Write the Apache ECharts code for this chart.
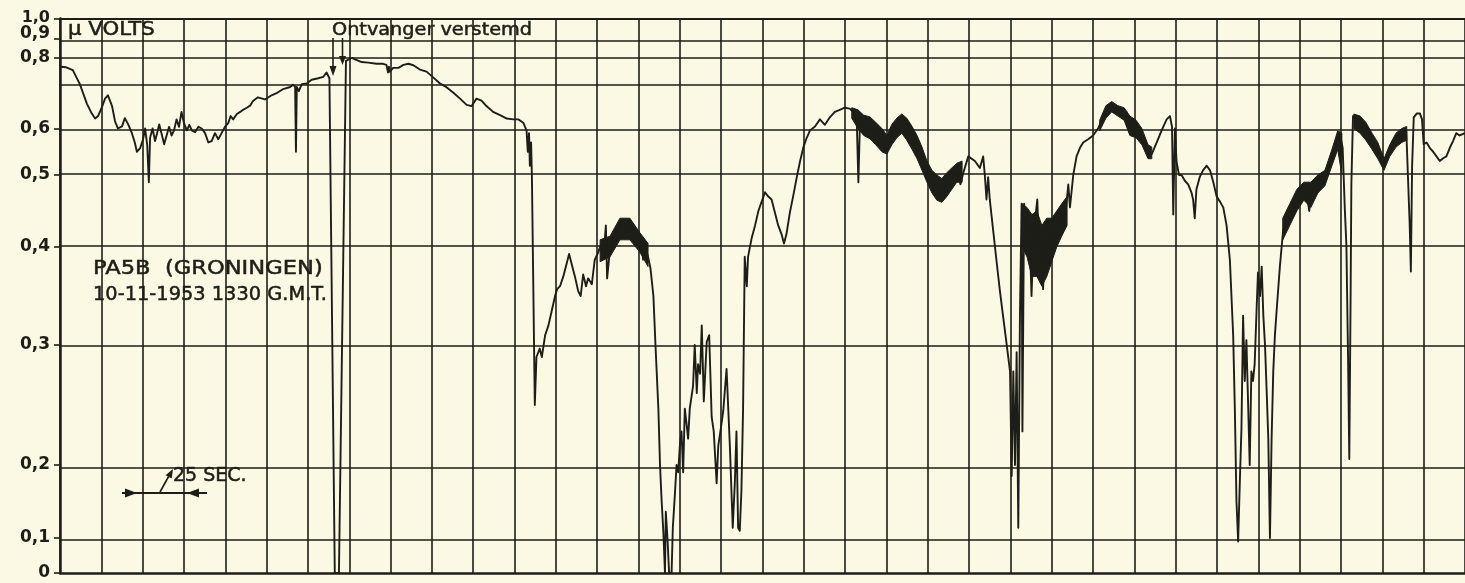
<!DOCTYPE html>
<html>
<head>
<meta charset="utf-8">
<script src="https://cdn.jsdelivr.net/npm/echarts@6/dist/echarts.min.js"></script>
<style>
  html, body { margin: 0; padding: 0; background: #FBF8E3; }
  #chart { width: 1465px; height: 583px; }
</style>
</head>
<body>
<div id="chart"></div>
<script>
// Receiver calibration: signal level (μV) against pen deflection (fraction of full scale)
const calibrationUV = [0, 0.1, 0.2, 0.3, 0.4, 0.5, 0.6, 0.7, 0.8, 0.9, 1.0];
const penDeflection = [0, 0.0631, 0.1948, 0.4112, 0.5879, 0.7178, 0.8016, 0.8765, 0.9288, 0.9630, 1.0];
const tickLabels = ['0', '0,1', '0,2', '0,3', '0,4', '0,5', '0,6', '', '0,8', '0,9', '1,0'];

// Recorded field strength: [time in chart divisions, μV]
const trace = [
  [0,0.77],[0.15,0.768],[0.31,0.758],[0.48,0.71],[0.65,0.66],[0.77,0.636],[0.85,0.624],[0.92,0.63],[1.01,0.65],[1.09,0.672],
  [1.16,0.68],[1.26,0.654],[1.33,0.618],[1.40,0.6],[1.50,0.605],[1.57,0.625],[1.65,0.61],[1.74,0.59],[1.81,0.57],[1.86,0.55],
  [1.94,0.558],[2.01,0.577],[2.06,0.6],[2.11,0.565],[2.15,0.49],[2.18,0.58],[2.24,0.6],[2.30,0.573],[2.35,0.59],[2.40,0.61],
  [2.46,0.588],[2.52,0.566],[2.58,0.585],[2.64,0.604],[2.70,0.585],[2.76,0.596],[2.82,0.622],[2.88,0.604],[2.94,0.64],[3.00,0.613],
  [3.07,0.596],[3.13,0.609],[3.19,0.596],[3.27,0.592],[3.35,0.604],[3.43,0.6],[3.51,0.59],[3.59,0.57],[3.67,0.573],[3.75,0.59],
  [3.83,0.577],[3.91,0.59],[3.99,0.604],[4.07,0.613],[4.13,0.63],[4.19,0.622],[4.28,0.635],[4.36,0.64],[4.43,0.645],[4.52,0.65],
  [4.60,0.655],[4.67,0.666],[4.79,0.675],[4.96,0.67],[5.12,0.68],[5.24,0.685],[5.40,0.695],[5.57,0.7],[5.64,0.708],[5.69,0.70],
  [5.71,0.55],[5.73,0.70],[5.78,0.69],[5.85,0.71],[5.97,0.712],[6.09,0.725],[6.25,0.73],[6.37,0.735],[6.45,0.75],[6.52,0.73],
  [6.65,0],[6.75,0],[6.92,0.79],[7.06,0.8],[7.14,0.795],[7.30,0.786],[7.46,0.784],[7.66,0.78],[7.82,0.78],[7.90,0.776],
  [7.94,0.75],[7.96,0.77],[7.98,0.752],[8.06,0.766],[8.19,0.766],[8.31,0.776],[8.43,0.78],[8.55,0.775],[8.71,0.76],[8.87,0.753],
  [9.03,0.733],[9.19,0.713],[9.36,0.699],[9.52,0.686],[9.68,0.672],[9.84,0.657],[9.96,0.654],[10.08,0.672],[10.20,0.667],[10.32,0.654],
  [10.48,0.64],[10.65,0.632],[10.81,0.624],[10.97,0.622],[11.09,0.622],[11.21,0.614],[11.29,0.596],[11.32,0.55],[11.35,0.59],[11.37,0.52],
  [11.40,0.57],[11.42,0.497],[11.49,0.25],[11.53,0.29],[11.61,0.297],[11.66,0.29],[11.74,0.31],[11.82,0.32],[11.90,0.335],[11.98,0.35],
  [12.03,0.357],[12.10,0.36],[12.18,0.37],[12.26,0.383],[12.32,0.393],[12.38,0.383],[12.46,0.37],[12.54,0.355],[12.60,0.35],[12.66,0.372],
  [12.73,0.36],[12.78,0.368],[12.87,0.362],[12.94,0.387],[13.02,0.394],[13.08,0.402],[13.15,0.39],[13.21,0.43],[13.24,0.368],[13.31,0.398],
  [13.39,0.406],[13.47,0.418],[13.55,0.43],[13.63,0.426],[13.71,0.418],[13.78,0.432],[13.83,0.426],[13.91,0.414],[13.99,0.406],[14.08,0.41],
  [14.11,0.387],[14.15,0.403],[14.23,0.39],[14.29,0.378],[14.36,0.35],[14.41,0.3],[14.48,0.247],[14.52,0.2],[14.56,0.15],[14.60,0.109],
  [14.64,0],[14.66,0.136],[14.70,0.1],[14.74,0],[14.80,0],[14.83,0.114],[14.88,0.16],[14.92,0.2],[14.96,0.19],[15.00,0.216],
  [15.04,0.228],[15.08,0.19],[15.12,0.247],[15.16,0.235],[15.20,0.222],[15.24,0.247],[15.32,0.266],[15.36,0.3],[15.41,0.26],[15.44,0.284],
  [15.49,0.276],[15.53,0.32],[15.58,0.253],[15.65,0.303],[15.71,0.31],[15.77,0.24],[15.82,0.228],[15.89,0.175],[15.93,0.216],[15.99,0.23],
  [16.05,0.245],[16.13,0.28],[16.21,0.216],[16.28,0.114],[16.33,0.175],[16.37,0.228],[16.41,0.114],[16.45,0.11],[16.49,0.165],[16.53,0.247],
  [16.57,0.39],[16.62,0.36],[16.65,0.39],[16.74,0.413],[16.82,0.43],[16.90,0.45],[16.98,0.463],[17.06,0.476],[17.14,0.47],[17.22,0.466],
  [17.30,0.448],[17.38,0.43],[17.46,0.418],[17.52,0.405],[17.58,0.418],[17.66,0.447],[17.74,0.47],[17.83,0.497],[17.91,0.53],[17.99,0.56],
  [18.07,0.58],[18.15,0.596],[18.27,0.605],[18.39,0.622],[18.51,0.609],[18.63,0.627],[18.75,0.64],[18.87,0.645],[18.99,0.65],[19.11,0.648],
  [19.19,0.64],[19.28,0.622],[19.32,0.49],[19.36,0.622],[19.44,0.618],[19.56,0.614],[19.68,0.6],[19.80,0.59],[19.92,0.57],[20.00,0.558],
  [20.08,0.573],[20.16,0.596],[20.24,0.604],[20.37,0.622],[20.49,0.61],[20.61,0.585],[20.73,0.566],[20.85,0.54],[20.97,0.51],[21.09,0.495],
  [21.21,0.48],[21.29,0.47],[21.39,0.48],[21.49,0.487],[21.61,0.5],[21.70,0.51],[21.79,0.487],[21.86,0.505],[21.98,0.54],[22.02,0.538],
  [22.14,0.53],[22.26,0.515],[22.34,0.54],[22.38,0.5],[22.42,0.466],[22.46,0.497],[22.50,0.466],[22.58,0.424],[22.66,0.387],[22.74,0.357],
  [22.82,0.33],[22.91,0.3],[22.99,0.278],[23.03,0.185],[23.07,0.278],[23.11,0.2],[23.15,0.294],[23.19,0.114],[23.23,0.33],[23.27,0.46],
  [23.29,0.228],[23.33,0.46],[23.39,0.434],[23.47,0.408],[23.51,0.35],[23.55,0.4],[23.59,0.434],[23.65,0.466],[23.70,0.387],[23.75,0.402],
  [23.79,0.357],[23.83,0.413],[23.89,0.434],[23.94,0.38],[24.00,0.402],[24.05,0.418],[24.12,0.434],[24.20,0.445],[24.28,0.43],[24.34,0.45],
  [24.40,0.487],[24.44,0.455],[24.52,0.5],[24.60,0.54],[24.68,0.558],[24.76,0.57],[24.88,0.577],[25.00,0.585],[25.12,0.6],[25.24,0.627],
  [25.36,0.65],[25.45,0.66],[25.57,0.645],[25.69,0.636],[25.81,0.64],[25.89,0.614],[25.97,0.59],[26.05,0.614],[26.17,0.585],[26.25,0.564],
  [26.33,0.54],[26.42,0.545],[26.54,0.57],[26.66,0.596],[26.78,0.622],[26.86,0.63],[26.91,0.604],[26.94,0.445],[26.98,0.6],[27.02,0.528],
  [27.08,0.5],[27.14,0.5],[27.22,0.492],[27.30,0.487],[27.38,0.476],[27.42,0.466],[27.46,0.44],[27.50,0.48],[27.58,0.497],[27.66,0.51],
  [27.75,0.52],[27.83,0.51],[27.91,0.49],[27.99,0.47],[28.07,0.463],[28.15,0.455],[28.23,0.43],[28.31,0.387],[28.39,0.31],[28.43,0.247],
  [28.47,0.15],[28.51,0.09],[28.55,0.175],[28.59,0.23],[28.63,0.33],[28.67,0.27],[28.71,0.305],[28.75,0.253],[28.79,0.2],[28.83,0.278],
  [28.87,0.27],[28.91,0.284],[28.96,0.34],[28.99,0.374],[29.04,0.35],[29.08,0.38],[29.12,0.33],[29.16,0.3],[29.20,0.262],[29.24,0.222],
  [29.28,0.1],[29.32,0.222],[29.36,0.278],[29.40,0.31],[29.45,0.34],[29.52,0.38],[29.60,0.424],[29.68,0.434],[29.76,0.445],[29.84,0.455],
  [29.92,0.466],[30.00,0.474],[30.08,0.48],[30.17,0.475],[30.23,0.45],[30.29,0.478],[30.37,0.487],[30.45,0.49],[30.53,0.5],[30.61,0.497],
  [30.69,0.518],[30.77,0.54],[30.85,0.566],[30.91,0.573],[30.97,0.59],[31.04,0.558],[31.09,0.455],[31.13,0.402],[31.17,0.29],[31.20,0.205],
  [31.23,0.34],[31.25,0.487],[31.29,0.63],[31.38,0.622],[31.46,0.614],[31.54,0.605],[31.62,0.6],[31.70,0.585],[31.78,0.566],[31.86,0.555],
  [31.94,0.54],[32.02,0.518],[32.10,0.54],[32.18,0.558],[32.26,0.573],[32.34,0.58],[32.42,0.585],[32.50,0.59],[32.58,0.594],[32.62,0.497],
  [32.66,0.434],[32.69,0.375],[32.72,0.52],[32.76,0.627],[32.83,0.636],[32.91,0.636],[32.96,0.622],[33.00,0.566],[33.07,0.57],[33.15,0.558],
  [33.23,0.55],[33.31,0.54],[33.39,0.53],[33.47,0.536],[33.55,0.54],[33.63,0.558],[33.71,0.573],[33.79,0.59],[33.87,0.585],[34.00,0.59]
];

// Stretches where the pen trace is smeared by fast fading: [time, low μV, high μV]
const fadingA = [[13.07,0.385,0.41],[13.31,0.39,0.415],[13.55,0.41,0.44],[13.79,0.41,0.44],[14.03,0.395,0.42],[14.23,0.38,0.405]];
const fadingB = [[19.16,0.625,0.65],[19.31,0.60,0.645],[19.45,0.585,0.632],[19.60,0.578,0.628],[19.74,0.565,0.615],[19.89,0.55,0.60],
  [20.01,0.545,0.585],[20.13,0.565,0.61],[20.25,0.58,0.625],[20.37,0.59,0.635],[20.49,0.575,0.625],[20.62,0.555,0.605],[20.74,0.535,0.585],
  [20.86,0.51,0.56],[20.98,0.49,0.53],[21.10,0.475,0.51],[21.22,0.465,0.5],[21.34,0.462,0.495],[21.46,0.47,0.505],[21.58,0.48,0.515],
  [21.70,0.49,0.525],[21.83,0.49,0.53]];
const fadingC = [[23.28,0.40,0.46],[23.40,0.39,0.455],[23.52,0.37,0.445],[23.64,0.37,0.45],[23.76,0.36,0.43],[23.88,0.37,0.44],
  [24.00,0.385,0.44],[24.12,0.40,0.45],[24.24,0.415,0.46],[24.37,0.43,0.47]];
const fadingD = [[25.16,0.595,0.62],[25.31,0.625,0.655],[25.45,0.64,0.665],[25.60,0.63,0.655],[25.75,0.62,0.65],[25.89,0.585,0.63],
  [26.04,0.58,0.62],[26.18,0.565,0.6],[26.33,0.535,0.565],[26.42,0.535,0.56]];
const fadingE = [[29.59,0.41,0.44],[29.76,0.43,0.46],[29.93,0.45,0.48],[30.10,0.465,0.49],[30.27,0.455,0.49],[30.44,0.475,0.5],
  [30.61,0.485,0.51],[30.78,0.52,0.555],[30.92,0.555,0.595],[31.02,0.5,0.59]];
const fadingF = [[31.31,0.60,0.635],[31.46,0.59,0.63],[31.60,0.575,0.615],[31.75,0.555,0.59],[31.89,0.535,0.57],[32.04,0.51,0.535],
  [32.18,0.54,0.565],[32.33,0.56,0.59],[32.47,0.57,0.6],[32.59,0.575,0.605]];
const fadingStretches = [fadingA, fadingB, fadingC, fadingD, fadingE, fadingF];

const INK = '#1e1e18';
const PAPER = '#FBF8E3';
const FONT = '"DejaVu Sans", "Liberation Sans", sans-serif';

// μV -> pen deflection, piecewise linear along the calibration table
function deflection(uv) {
  for (let i = 1; i < calibrationUV.length; i++) {
    if (uv <= calibrationUV[i]) {
      const a = calibrationUV[i - 1], b = calibrationUV[i];
      return penDeflection[i - 1] + (uv - a) / (b - a) * (penDeflection[i] - penDeflection[i - 1]);
    }
  }
  return penDeflection[penDeflection.length - 1];
}

const labelledTicks = penDeflection.filter((p, i) => tickLabels[i] !== '');

const gridLines = calibrationUV.slice(1).map(v => ({
  yAxis: deflection(v),
  lineStyle: { width: v === 1.0 ? 2.2 : 1.6 }
}));

// Smeared stretches drawn as filled envelopes between the low and high readings
function renderFading(params, api) {
  const band = fadingStretches[params.dataIndex];
  const upper = band.map(([t, lo, hi]) => api.coord([t, deflection(hi)]));
  const lower = band.map(([t, lo]) => api.coord([t, deflection(lo)])).reverse();
  return {
    type: 'polygon',
    shape: { points: upper.concat(lower) },
    style: { fill: INK, stroke: INK, lineWidth: 1 }
  };
}

// Hand-lettered annotation in ink
function lettering(text, x, y, size, scaleX) {
  return {
    type: 'text', x, y, scaleX: scaleX || 1,
    style: { text, font: size + 'px ' + FONT, fill: INK, stroke: INK, lineWidth: 0.5, textVerticalAlign: 'middle' }
  };
}

const chart = echarts.init(document.getElementById('chart'));
chart.setOption({
  backgroundColor: PAPER,
  animation: false,
  grid: { left: 60, right: 0, top: 18.5, bottom: 10, outerBoundsMode: 'none' },
  xAxis: {
    type: 'value', min: 0, max: 34, interval: 1,
    axisLine: { show: true, onZero: false, lineStyle: { color: INK, width: 2.5 } },
    axisTick: { show: false },
    axisLabel: { show: false },
    splitLine: { show: true, lineStyle: { color: INK, width: 1.6 } }
  },
  yAxis: {
    type: 'value', min: 0, max: 1,
    axisLine: { show: true, lineStyle: { color: INK, width: 2.5 } },
    axisTick: { show: true, customValues: labelledTicks, length: 6, lineStyle: { color: INK, width: 1.6 } },
    axisLabel: {
      customValues: labelledTicks,
      showMinLabel: true,
      showMaxLabel: true,
      hideOverlap: false,
      margin: 10,
      color: INK,
      fontFamily: FONT,
      fontWeight: 'bold',
      fontSize: 17,
      formatter: (val) => {
        let best = 0;
        penDeflection.forEach((p, i) => { if (Math.abs(p - val) < Math.abs(penDeflection[best] - val)) best = i; });
        const txt = tickLabels[best];
        if (best === 9) return '{raised|' + txt + '}';
        if (best === 10) return '{top|' + txt + '}';
        return txt;
      },
      rich: {
        raised: { fontFamily: FONT, fontWeight: 'bold', fontSize: 17, color: INK, padding: [0, 0, 10, 0] },
        top: { fontFamily: FONT, fontWeight: 'bold', fontSize: 16, color: INK, padding: [0, 0, 2, 0] }
      }
    },
    splitLine: { show: false }
  },
  series: [
    {
      type: 'line', silent: true, showSymbol: false, z: 1,
      data: [],
      markLine: {
        silent: true, symbol: ['none', 'none'], label: { show: false },
        lineStyle: { color: INK, type: 'solid', width: 1.6 },
        data: gridLines
      }
    },
    {
      type: 'custom', silent: true, z: 3, clip: true,
      renderItem: renderFading,
      data: fadingStretches.map((band) => [band[0][0], deflection(band[0][1])])
    },
    {
      type: 'line', silent: true, showSymbol: false, z: 4,
      lineStyle: { color: INK, width: 1.9, join: 'round' },
      data: trace.map(([t, uv]) => [t, deflection(uv)])
    }
  ],
  graphic: [
    lettering('μ VOLTS', 68, 30, 19, 1.12),
    lettering('Ontvanger verstemd', 332, 30, 18, 1.07),
    { type: 'polyline', shape: { points: [[333, 38], [333, 70]] }, style: { stroke: INK, lineWidth: 1.6, fill: null } },
    { type: 'polygon', shape: { points: [[329.5, 66], [333, 76], [336.5, 66]] }, style: { fill: INK } },
    { type: 'polyline', shape: { points: [[342.5, 38], [342.5, 59]] }, style: { stroke: INK, lineWidth: 1.6, fill: null } },
    { type: 'polygon', shape: { points: [[339, 56], [342.5, 65], [346, 56]] }, style: { fill: INK } },
    lettering('PA5B  (GRONINGEN)', 93, 269, 20, 1.13),
    lettering('10-11-1953 1330 G.M.T.', 93, 295, 19, 1.02),
    lettering('25 SEC.', 173, 476, 19, 1),
    { type: 'polyline', shape: { points: [[122, 493], [207, 493]] }, style: { stroke: INK, lineWidth: 2, fill: null } },
    { type: 'polygon', shape: { points: [[125, 488.5], [137, 493], [125, 497.5]] }, style: { fill: INK } },
    { type: 'polygon', shape: { points: [[199, 488.5], [187, 493], [199, 497.5]] }, style: { fill: INK } },
    { type: 'polyline', shape: { points: [[160, 492], [170, 474]] }, style: { stroke: INK, lineWidth: 1.6, fill: null } },
    { type: 'polygon', shape: { points: [[173, 469], [171.7, 478.6], [165.6, 475.2]] }, style: { fill: INK } }
  ]
});
</script>
</body>
</html>
